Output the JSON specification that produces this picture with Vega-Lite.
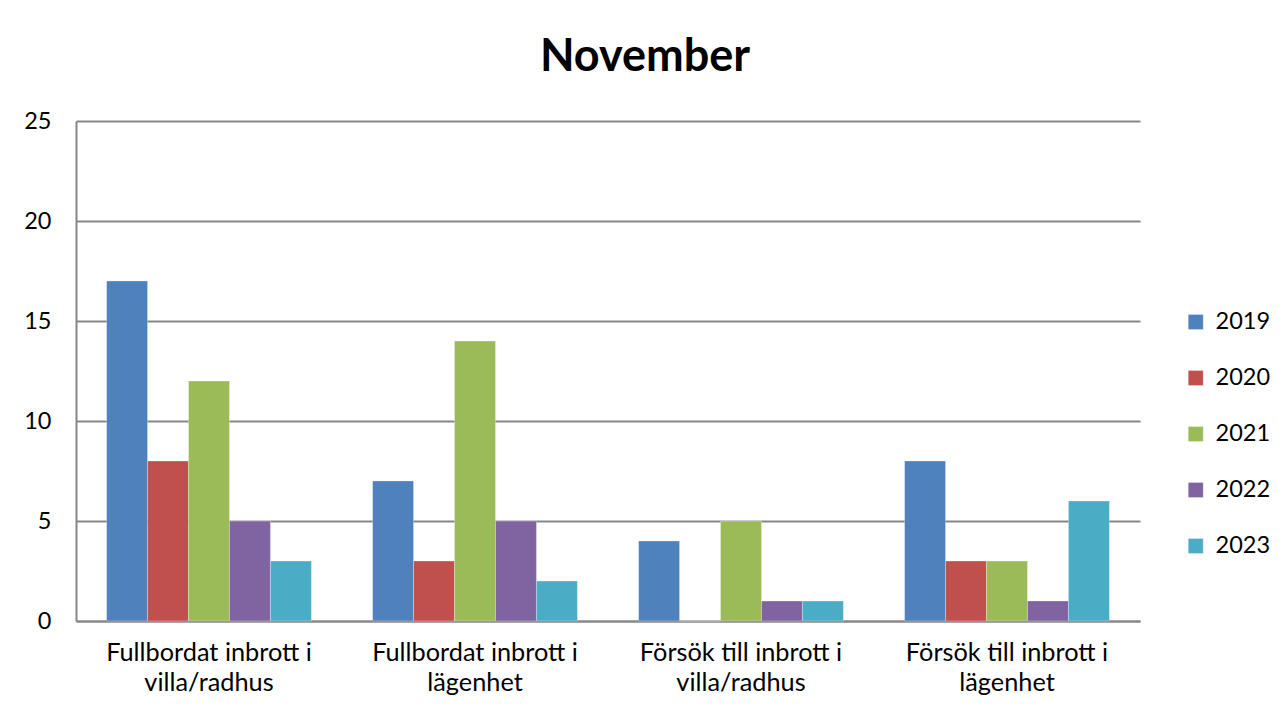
{
  "$schema": "https://vega.github.io/schema/vega-lite/v6.json",
  "autosize": {"type": "none"},
  "width": 1064,
  "height": 500,
  "padding": {"left": 76, "top": 121, "right": 142, "bottom": 94},
  "background": "white",
  "title": {
    "text": "November",
    "font": "Lato",
    "fontSize": 45,
    "fontWeight": "bold",
    "color": "black",
    "anchor": "middle",
    "dx": 37,
    "dy": 7,
    "baseline": "alphabetic",
    "offset": 0
  },
  "data": {
    "values": [
      {"kategori": "Fullbordat inbrott i villa/radhus", "år": "2019", "antal": 17},
      {"kategori": "Fullbordat inbrott i villa/radhus", "år": "2020", "antal": 8},
      {"kategori": "Fullbordat inbrott i villa/radhus", "år": "2021", "antal": 12},
      {"kategori": "Fullbordat inbrott i villa/radhus", "år": "2022", "antal": 5},
      {"kategori": "Fullbordat inbrott i villa/radhus", "år": "2023", "antal": 3},
      {"kategori": "Fullbordat inbrott i lägenhet", "år": "2019", "antal": 7},
      {"kategori": "Fullbordat inbrott i lägenhet", "år": "2020", "antal": 3},
      {"kategori": "Fullbordat inbrott i lägenhet", "år": "2021", "antal": 14},
      {"kategori": "Fullbordat inbrott i lägenhet", "år": "2022", "antal": 5},
      {"kategori": "Fullbordat inbrott i lägenhet", "år": "2023", "antal": 2},
      {"kategori": "Försök till inbrott i villa/radhus", "år": "2019", "antal": 4},
      {"kategori": "Försök till inbrott i villa/radhus", "år": "2020", "antal": 0},
      {"kategori": "Försök till inbrott i villa/radhus", "år": "2021", "antal": 5},
      {"kategori": "Försök till inbrott i villa/radhus", "år": "2022", "antal": 1},
      {"kategori": "Försök till inbrott i villa/radhus", "år": "2023", "antal": 1},
      {"kategori": "Försök till inbrott i lägenhet", "år": "2019", "antal": 8},
      {"kategori": "Försök till inbrott i lägenhet", "år": "2020", "antal": 3},
      {"kategori": "Försök till inbrott i lägenhet", "år": "2021", "antal": 3},
      {"kategori": "Försök till inbrott i lägenhet", "år": "2022", "antal": 1},
      {"kategori": "Försök till inbrott i lägenhet", "år": "2023", "antal": 6}
    ]
  },
  "mark": {"type": "bar"},
  "encoding": {
    "x": {
      "field": "kategori",
      "type": "nominal",
      "sort": null,
      "title": null,
      "scale": {"paddingInner": 0.23, "paddingOuter": 0.115},
      "axis": {
        "labelAngle": 0,
        "labelFont": "Lato",
        "labelFontSize": 25.3,
        "labelColor": "black",
        "labelPadding": 19,
        "labelLineHeight": 30,
        "labelBaseline": "top",
        "labelLimit": 400,
        "ticks": false,
        "domainColor": "#878787",
        "domainWidth": 2,
        "labelExpr": "[substring(datum.label, 0, lastindexof(datum.label, ' ')), substring(datum.label, lastindexof(datum.label, ' ') + 1)]"
      }
    },
    "xOffset": {"field": "år", "type": "nominal", "scale": {"paddingInner": 0, "paddingOuter": 0}},
    "y": {
      "field": "antal",
      "type": "quantitative",
      "title": null,
      "scale": {"domain": [0, 25], "nice": false},
      "axis": {
        "values": [0, 5, 10, 15, 20, 25],
        "labelFont": "Lato",
        "labelFontSize": 23.5,
        "labelColor": "black",
        "labelPadding": 25,
        "ticks": false,
        "grid": true,
        "gridColor": "#878787",
        "gridWidth": 2,
        "domainColor": "#878787",
        "domainWidth": 2
      }
    },
    "color": {
      "field": "år",
      "type": "nominal",
      "title": null,
      "scale": {
        "domain": ["2019", "2020", "2021", "2022", "2023"],
        "range": ["#4F81BD", "#C0504D", "#9BBB59", "#8064A2", "#4BACC6"]
      },
      "legend": {
        "orient": "none",
        "legendX": 1108,
        "legendY": 189,
        "symbolType": "square",
        "symbolSize": 225,
        "symbolStrokeWidth": 0,
        "labelFont": "Lato",
        "labelFontSize": 23.5,
        "labelColor": "black",
        "labelOffset": 8,
        "rowPadding": 32,
        "clipHeight": 24
      }
    }
  },
  "config": {
    "view": {"stroke": null},
    "bar": {"stroke": "white", "strokeWidth": 0.5, "strokeOpacity": 0.6}
  }
}
